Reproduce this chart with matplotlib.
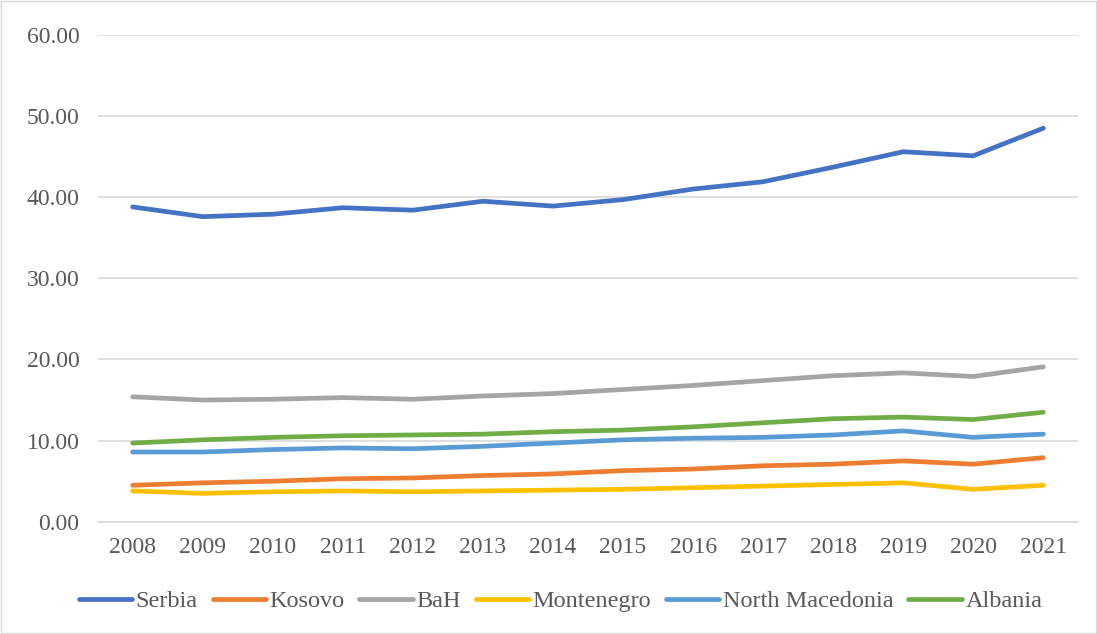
import numpy as np
import matplotlib.pyplot as plt

years = [str(y) for y in range(2008, 2022)]
serbia = [38.8, 37.6, 37.9, 38.7, 38.4, 39.5, 38.9, 39.7, 41.0, 41.9, 43.7, 45.6, 45.1, 48.5]
kosovo = [4.5, 4.8, 5.0, 5.3, 5.4, 5.7, 5.9, 6.3, 6.5, 6.9, 7.1, 7.5, 7.1, 7.9]
bah = [15.4, 15.0, 15.1, 15.3, 15.1, 15.5, 15.8, 16.3, 16.8, 17.4, 18.0, 18.35, 17.9, 19.1]
montenegro = [3.8, 3.5, 3.7, 3.8, 3.7, 3.8, 3.9, 4.0, 4.2, 4.4, 4.6, 4.8, 4.0, 4.5]
north_macedonia = [8.6, 8.6, 8.9, 9.1, 9.0, 9.3, 9.7, 10.1, 10.3, 10.4, 10.7, 11.2, 10.4, 10.8]
albania = [9.7, 10.1, 10.4, 10.6, 10.7, 10.8, 11.1, 11.3, 11.7, 12.2, 12.7, 12.9, 12.6, 13.5]

series = [
    ("Serbia", serbia, "#4472C4"),
    ("Kosovo", kosovo, "#ED7D31"),
    ("BaH", bah, "#A5A5A5"),
    ("Montenegro", montenegro, "#FFC000"),
    ("North Macedonia", north_macedonia, "#5B9BD5"),
    ("Albania", albania, "#70AD47"),
]

plt.rcParams['font.family'] = ['Liberation Serif', 'DejaVu Serif']
text_color = "#595959"

fig = plt.figure(figsize=(10.97, 6.34), dpi=100)
ax = fig.add_axes([0.089, 0.177, 0.894, 0.768])

x = np.arange(len(years))
for name, vals, col in series:
    ax.plot(x, vals, color=col, lw=3.4, label=name, solid_capstyle="round", solid_joinstyle="round")

ax.set_xlim(-0.5, len(years) - 0.5)
ax.set_ylim(0, 60)
ax.set_yticks(np.arange(0, 61, 10))
ax.set_yticklabels([f"{v:.2f}" for v in np.arange(0, 61, 10)])
ax.set_xticks(x)
ax.set_xticklabels(years)
ax.yaxis.grid(True, color="#D9D9D9", lw=1.2)
ax.set_axisbelow(True)
for s in ["top", "right", "left"]:
    ax.spines[s].set_visible(False)
ax.spines["bottom"].set_color("#D9D9D9")
ax.spines["bottom"].set_linewidth(1.2)
ax.tick_params(length=0, labelsize=17, colors=text_color)
ax.tick_params(axis="y", pad=13)
ax.tick_params(axis="x", pad=11)

leg = fig.legend(loc="center", bbox_to_anchor=(0.511, 0.052), ncol=6, frameon=False,
                 fontsize=17.5, handlelength=2.2, handletextpad=0.15, columnspacing=0.6)
for t in leg.get_texts():
    t.set_color(text_color)

fig.patches.append(plt.Rectangle((0.001, 0.001), 0.998, 0.997, transform=fig.transFigure,
                                 fill=False, edgecolor="#D9D9D9", lw=1))

fig.savefig("out.png", dpi=100, facecolor="white")
